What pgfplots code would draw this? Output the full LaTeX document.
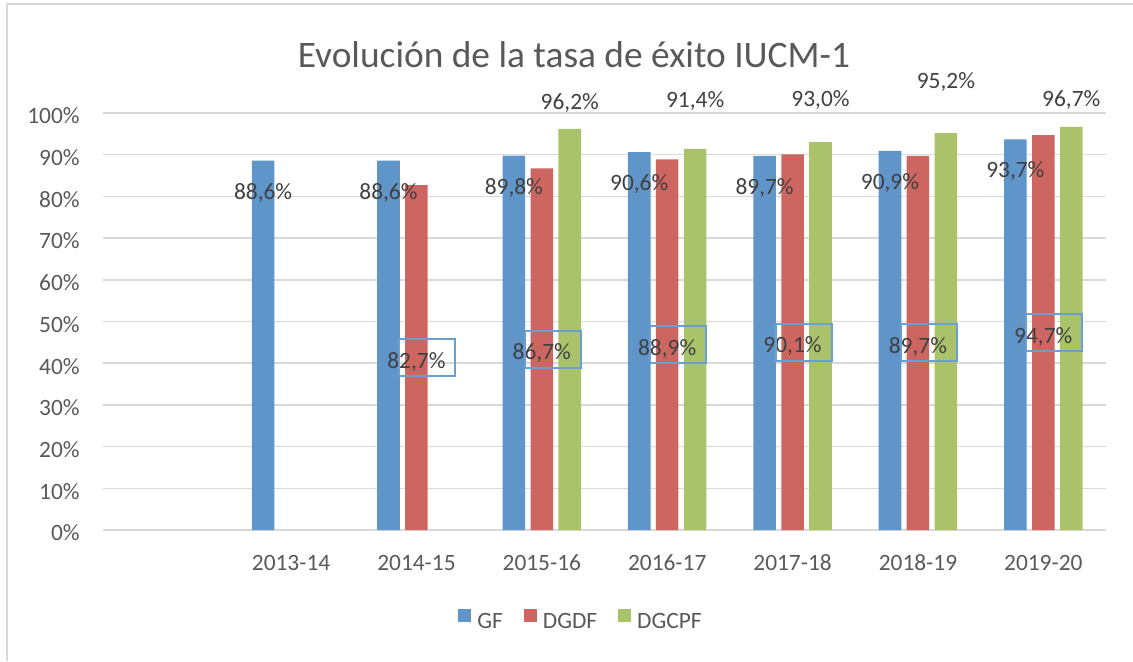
\documentclass[border=0pt]{standalone}
\usepackage{fontspec}
\setmainfont{Carlito}
\usepackage{pgfplots}
\pgfplotsset{compat=1.18}
\usepackage{pgfplotstable}
\definecolor{cblue}{HTML}{5F95C9}
\definecolor{cred}{HTML}{CD6660}
\definecolor{cgreen}{HTML}{AAC36A}
\definecolor{gridc}{HTML}{D9D9D9}
\definecolor{tgray}{HTML}{595959}
\definecolor{lgray}{HTML}{404040}
\definecolor{boxc}{HTML}{6A9FD4}

\pgfplotstableread{
x v
1 88.6
2 88.6
3 89.8
4 90.6
5 89.7
6 90.9
7 93.7
}\gf
\pgfplotstableread{
x v
2 82.7
3 86.7
4 88.9
5 90.1
6 89.7
7 94.7
}\dgdf
\pgfplotstableread{
x v ylab
3 96.2 102.4
4 91.4 102.9
5 93.0 103.1
6 95.2 107.4
7 96.7 103.1
}\dgcpf

\newcommand{\lblfont}{\fontsize{11.7}{14}\selectfont}
\newcommand{\pct}{\pgfmathprintnumber[fixed,fixed zerofill,precision=1,use comma,assume math mode=true]{\pgfplotspointmeta}\%}

\begin{document}
\begin{tikzpicture}[x=1pt,y=1pt]
\path[use as bounding box] (0,0) rectangle (566.5,330.5);
\draw[gridc, line width=0.75pt] (3.5,0) -- (3.5,328.5) -- (566.5,328.5);
\node[anchor=base, text=tgray, font=\fontsize{18.7}{22}\selectfont, inner sep=0pt] at (287,297) {Evolución de la tasa de éxito IUCM-1};
\begin{axis}[
  at={(51.5pt,65.5pt)}, anchor=south west,
  scale only axis, width=501.5pt, height=208.5pt,
  xmin=-0.5, xmax=7.5, ymin=0, ymax=100,
  clip=false,
  axis line style={draw=none},
  major tick length=0pt,
  xtick={1,...,7},
  xticklabels={2013-14,2014-15,2015-16,2016-17,2017-18,2018-19,2019-20},
  ytick={0,10,...,100},
  yticklabels={0\%,10\%,20\%,30\%,40\%,50\%,60\%,70\%,80\%,90\%,100\%},
  ymajorgrids, grid style={gridc, line width=0.75pt},
  tick label style={font=\lblfont, text=tgray, inner sep=0pt},
  yticklabel style={anchor=east, xshift=-11.5pt, yshift=-1.5pt},
  xticklabel style={anchor=center, yshift=-16.5pt},
  /pgf/number format/assume math mode=true,
  legend style={draw=none, fill=none, at={(0.4756,-0.216)}, anchor=center,
    legend columns=-1, font=\lblfont, text=tgray,
    nodes={inner sep=0pt},
    /tikz/every odd column/.append style={column sep=3pt},
    /tikz/every even column/.append style={column sep=10.5pt}},
]
\addplot[ybar, bar width=0.18, bar shift=-0.223, fill=cblue, draw=none,
  legend image code/.code={\fill[cblue] (0pt,0.5pt) rectangle (6.5pt,7pt);}]
  table[x=x, y=v]{\gf};
\addlegendentry{GF}
\addplot[ybar, bar width=0.18, bar shift=0, fill=cred, draw=none,
  legend image code/.code={\fill[cred] (0pt,0.5pt) rectangle (6.5pt,7pt);}]
  table[x=x, y=v]{\dgdf};
\addlegendentry{DGDF}
\addplot[ybar, bar width=0.18, bar shift=0.223, fill=cgreen, draw=none,
  legend image code/.code={\fill[cgreen] (0pt,0.5pt) rectangle (6.5pt,7pt);}]
  table[x=x, y=v]{\dgcpf};
\addlegendentry{DGCPF}
% GF labels inside the blue bars
\addplot[forget plot, only marks, mark=*, mark size=0pt, mark options={draw=none, fill=none},
  point meta=explicit, nodes near coords={\pct},
  every node near coord/.append style={anchor=center, font=\lblfont, text=lgray, inner sep=0pt}]
  table[x expr=\thisrow{x}-0.223, y expr=\thisrow{v}-7.7, meta=v]{\gf};
% DGDF labels at bar centre
\addplot[forget plot, only marks, mark=*, mark size=0pt, mark options={draw=none, fill=none},
  point meta=explicit, nodes near coords={\pct},
  every node near coord/.append style={anchor=center, yshift=-2pt, font=\lblfont, text=lgray, inner sep=0pt}]
  table[x=x, y expr=\thisrow{v}/2, meta=v]{\dgdf};
\addplot[forget plot, only marks, mark=*, mark size=0pt, mark options={draw=none, fill=none},
  nodes near coords={\hbox{}},
  every node near coord/.append style={anchor=center, xshift=5.5pt, draw=boxc, line width=1pt,
    minimum width=28pt, minimum height=18.5pt, inner sep=0pt}]
  table[x=x, y expr=\thisrow{v}/2]{\dgdf};
% DGCPF labels above
\addplot[forget plot, only marks, mark=*, mark size=0pt, mark options={draw=none, fill=none},
  point meta=explicit, nodes near coords={\pct},
  every node near coord/.append style={anchor=center, font=\lblfont, text=lgray, inner sep=0pt}]
  table[x expr=\thisrow{x}+0.223, y=ylab, meta=v]{\dgcpf};
\end{axis}
\end{tikzpicture}
\end{document}
